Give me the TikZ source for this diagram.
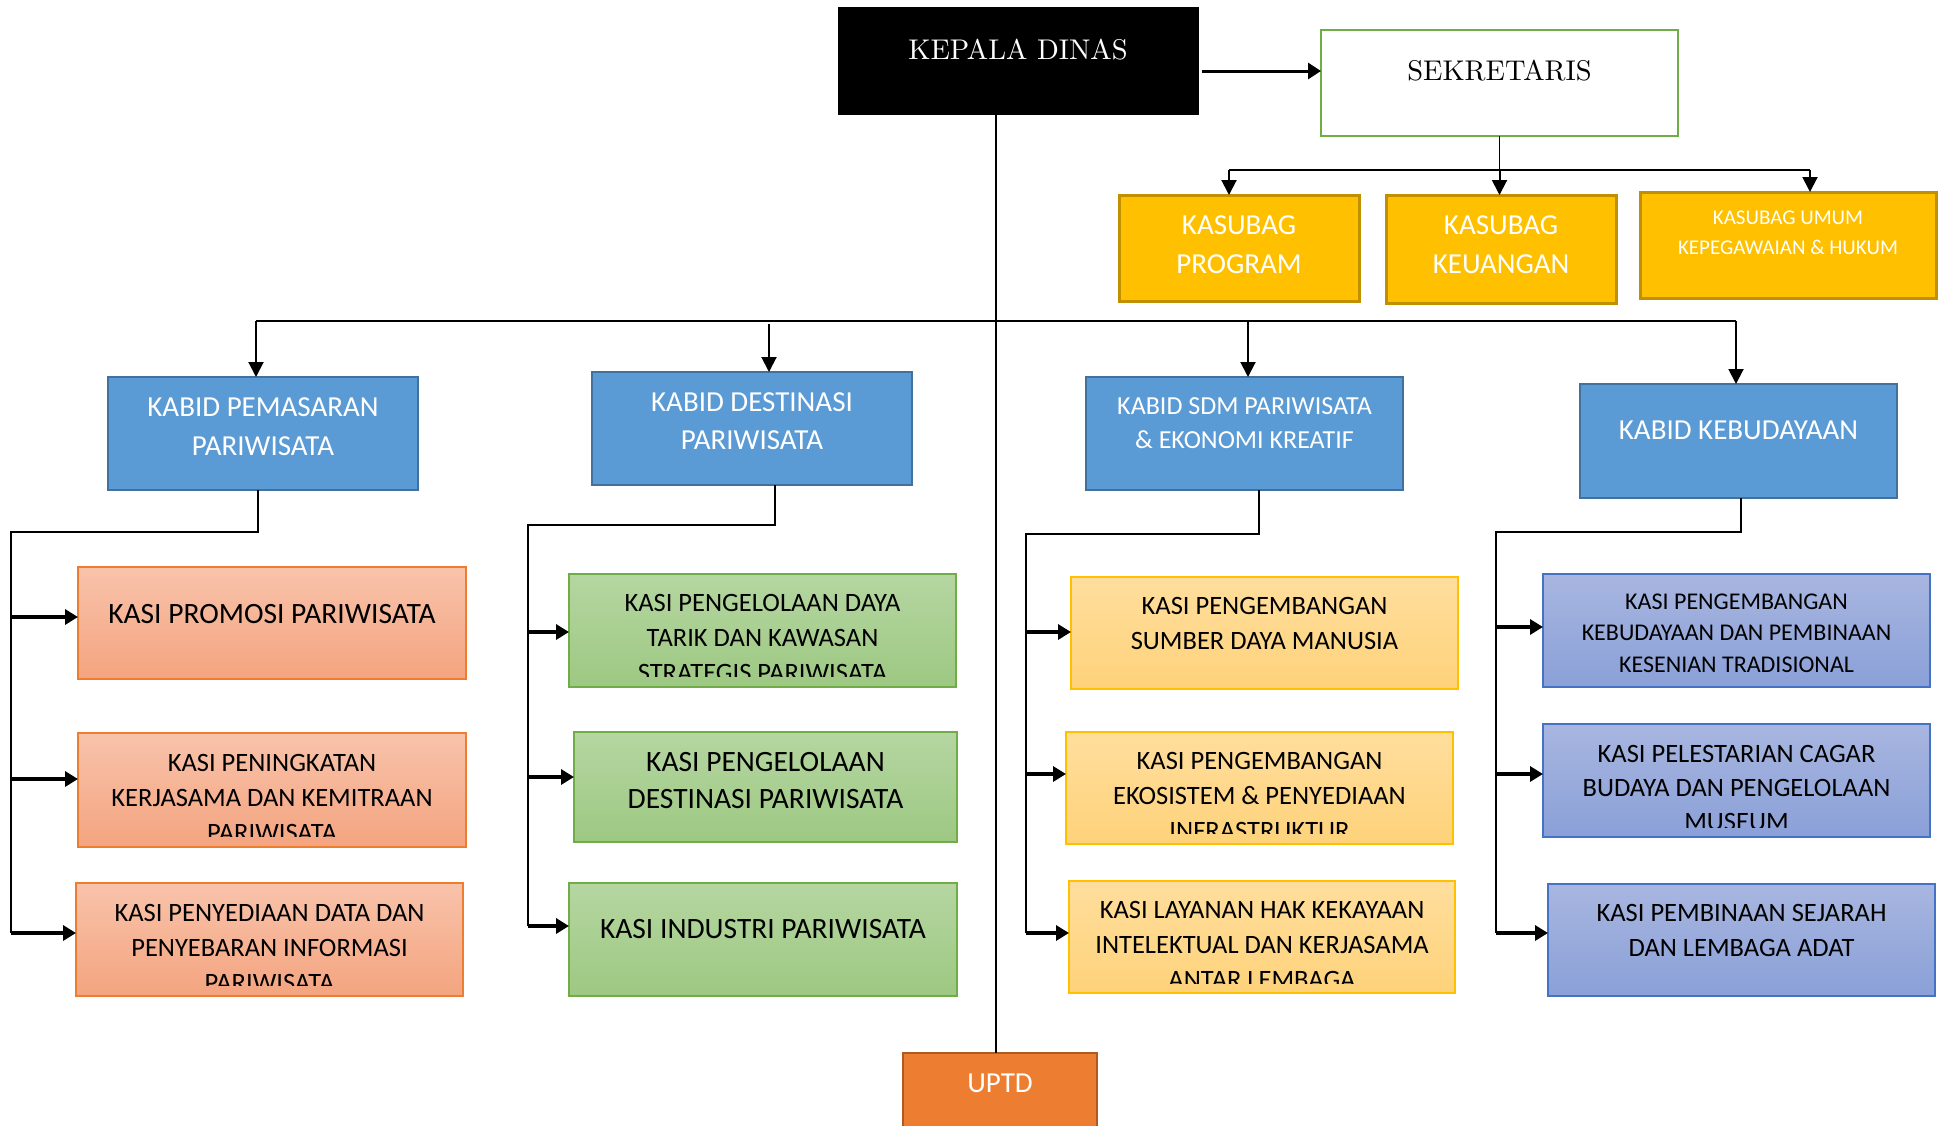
\documentclass[tikz,border=0pt]{standalone}
\usepackage{fontspec}
\newfontfamily\carl{Carlito}
\usetikzlibrary{arrows.meta}
\definecolor{kabfill}{HTML}{5B9BD5}
\definecolor{kabline}{HTML}{41719C}
\definecolor{subfill}{HTML}{FFC000}
\definecolor{subline}{HTML}{C09000}
\definecolor{otop}{HTML}{F8C3AB}
\definecolor{obot}{HTML}{F4A47F}
\definecolor{oline}{HTML}{ED7D31}
\definecolor{gtop}{HTML}{B5D6A1}
\definecolor{gbot}{HTML}{9DC882}
\definecolor{gline}{HTML}{70AD47}
\definecolor{ytop}{HTML}{FFDE9D}
\definecolor{ybot}{HTML}{FED27A}
\definecolor{yline}{HTML}{FFC000}
\definecolor{vtop}{HTML}{A8B6E0}
\definecolor{vbot}{HTML}{8AA0D8}
\definecolor{vline}{HTML}{4472C4}
\definecolor{uptdfill}{HTML}{ED7D31}
\definecolor{uptdline}{HTML}{AE5A21}
\newcommand\fsz[2]{\carl\fontsize{#1}{#2}\selectfont}
\begin{document}
\begin{tikzpicture}[x=1pt,y=-1pt,
  bx/.style={rectangle, inner sep=0pt, outer sep=0pt},
  headbox/.style={bx, fill=black, draw=black, line width=1pt},
  sekbox/.style={bx, fill=white, draw=gline, line width=2.2pt},
  subbox/.style={bx, fill=subfill, draw=subline, line width=3pt},
  kabbox/.style={bx, fill=kabfill, draw=kabline, line width=2.5pt},
  obox/.style={bx, draw=oline, line width=2pt, top color=otop, bottom color=obot},
  gbox/.style={bx, draw=gline, line width=2pt, top color=gtop, bottom color=gbot},
  ybox/.style={bx, draw=yline, line width=2pt, top color=ytop, bottom color=ybot},
  vbox/.style={bx, draw=vline, line width=2pt, top color=vtop, bottom color=vbot},
  ubox/.style={bx, fill=uptdfill, draw=uptdline, line width=2.5pt},
  txt/.style={anchor=north, inner sep=0pt, align=center},
  wtxt/.style={txt, text=white},
  serif/.style={anchor=north, inner sep=0pt, scale=2.85, transform shape, font=\fontsize{10}{12}\selectfont},
  conn/.style={draw=black, line width=1.3pt},
  arrV/.style={draw=black, line width=2pt, -{Triangle[length=15pt,width=15pt]}},
  arrH/.style={draw=black, line width=3.3pt, -{Triangle[length=13pt,width=15pt]}},
  arrT/.style={draw=black, line width=3pt, -{Triangle[length=13pt,width=16pt]}}
]
\useasboundingbox (0,0) rectangle (1939,1125);

% ---------- top level ----------
\node[headbox, minimum width=360, minimum height=107] (kepala) at (1018,60.5) {};
\node[serif, text=white] (kepalat) at (1018,39) {KEPALA DINAS};

\node[sekbox, minimum width=357, minimum height=106] (sek) at (1499.5,83) {};
\node[serif] (sekt) at (1499.5,60) {SEKRETARIS};

\node[subbox, minimum width=240, minimum height=106] (kprog) at (1239,248) {};
\node[wtxt, font=\fsz{29}{39}] (kprogt) at (1239,215.8) {KASUBAG\\PROGRAM};
\node[subbox, minimum width=230, minimum height=108] (kkeu) at (1501,249) {};
\node[wtxt, font=\fsz{29}{39}] (kkeut) at (1501,215.8) {KASUBAG\\KEUANGAN};
\node[subbox, minimum width=296, minimum height=106] (kumum) at (1788,245) {};
\node[wtxt, font=\fsz{21}{30}] (kumumt) at (1788,210.4) {KASUBAG UMUM\\KEPEGAWAIAN \& HUKUM};

% ---------- kabid ----------
\node[kabbox, minimum width=310, minimum height=113] (kab1) at (263,433.5) {};
\node[wtxt, font=\fsz{29}{39}] (kab1t) at (263,397.8) {KABID PEMASARAN\\PARIWISATA};
\node[kabbox, minimum width=320, minimum height=113] (kab2) at (752,428.5) {};
\node[wtxt, font=\fsz{29}{38}] (kab2t) at (752,392.8) {KABID DESTINASI\\PARIWISATA};
\node[kabbox, minimum width=317, minimum height=113] (kab3) at (1244.5,433.5) {};
\node[wtxt, font=\fsz{26}{34}] (kab3t) at (1244.5,397.8) {KABID SDM PARIWISATA\\\& EKONOMI KREATIF};
\node[kabbox, minimum width=317, minimum height=114] (kab4) at (1738.5,441) {};
\node[wtxt, font=\fsz{29}{38}] (kab4t) at (1738.5,420.8) {KABID KEBUDAYAAN};

% ---------- kasi column 1 ----------
\node[obox, minimum width=388, minimum height=112] (p1) at (272,623) {};
\node[txt, font=\fsz{29.5}{35}] (p1t) at (272,603.8) {KASI PROMOSI PARIWISATA};
\node[obox, minimum width=388, minimum height=114] (p2) at (272,790) {};
\begin{scope}\clip (78,733) rectangle (466,836);
\node[txt, font=\fsz{26.5}{35}] (p2t) at (272,753.6) {KASI PENINGKATAN\\KERJASAMA DAN KEMITRAAN\\PARIWISATA};
\end{scope}
\node[obox, minimum width=387, minimum height=113] (p3) at (269.5,939.5) {};
\begin{scope}\clip (76,883) rectangle (463,985);
\node[txt, font=\fsz{26.5}{35}] (p3t) at (269.5,903.6) {KASI PENYEDIAAN DATA DAN\\PENYEBARAN INFORMASI\\PARIWISATA};
\end{scope}

% ---------- kasi column 2 ----------
\node[gbox, minimum width=387, minimum height=113] (d1) at (762.5,630.5) {};
\begin{scope}\clip (569,574) rectangle (956,676);
\node[txt, font=\fsz{26.5}{35}] (d1t) at (762.5,593.6) {KASI PENGELOLAAN DAYA\\TARIK DAN KAWASAN\\STRATEGIS PARIWISATA};
\end{scope}
\node[gbox, minimum width=383, minimum height=110] (d2) at (765.5,787) {};
\node[txt, font=\fsz{29.5}{37}] (d2t) at (765.5,751.8) {KASI PENGELOLAAN\\DESTINASI PARIWISATA};
\node[gbox, minimum width=388, minimum height=113] (d3) at (763,939.5) {};
\node[txt, font=\fsz{29.5}{37}] (d3t) at (763,918.8) {KASI INDUSTRI PARIWISATA};

% ---------- kasi column 3 ----------
\node[ybox, minimum width=387, minimum height=112] (s1) at (1264.5,633) {};
\node[txt, font=\fsz{26.5}{35}] (s1t) at (1264.5,596.6) {KASI PENGEMBANGAN\\SUMBER DAYA MANUSIA};
\node[ybox, minimum width=387, minimum height=112] (s2) at (1259.5,788) {};
\begin{scope}\clip (1066,732) rectangle (1453,833);
\node[txt, font=\fsz{26.5}{35}] (s2t) at (1259.5,751.6) {KASI PENGEMBANGAN\\EKOSISTEM \& PENYEDIAAN\\INFRASTRUKTUR};
\end{scope}
\node[ybox, minimum width=386, minimum height=112] (s3) at (1262,937) {};
\begin{scope}\clip (1069,881) rectangle (1455,983);
\node[txt, font=\fsz{26.5}{35}] (s3t) at (1262,900.6) {KASI LAYANAN HAK KEKAYAAN\\INTELEKTUAL DAN KERJASAMA\\ANTAR LEMBAGA};
\end{scope}

% ---------- kasi column 4 ----------
\node[vbox, minimum width=387, minimum height=113] (b1) at (1736.5,630.5) {};
\node[txt, font=\fsz{24}{31.5}] (b1t) at (1736.5,593.4) {KASI PENGEMBANGAN\\KEBUDAYAAN DAN PEMBINAAN\\KESENIAN TRADISIONAL};
\node[vbox, minimum width=387, minimum height=113] (b2) at (1736.5,780.5) {};
\begin{scope}\clip (1543,724) rectangle (1930,827);
\node[txt, font=\fsz{26.5}{34}] (b2t) at (1736.5,744.6) {KASI PELESTARIAN CAGAR\\BUDAYA DAN PENGELOLAAN\\MUSEUM};
\end{scope}
\node[vbox, minimum width=387, minimum height=112] (b3) at (1741.5,940) {};
\node[txt, font=\fsz{26.5}{35}] (b3t) at (1741.5,903.6) {KASI PEMBINAAN SEJARAH\\DAN LEMBAGA ADAT};

% ---------- UPTD ----------
\node[ubox, minimum width=194, minimum height=87] (uptd) at (1000,1096.5) {};
\node[wtxt, font=\fsz{29}{35}] (uptdt) at (1000,1073.8) {UPTD};

% ---------- connectors: top ----------
\coordinate (ka) at (1202,71);
\draw[arrT] (ka) -- (sek.west |- ka);
\coordinate (tk) at (996,0);
\draw[draw=black, line width=1.2pt] (tk |- kepala.south) -- (tk |- uptd.north);

\coordinate (hl) at (1229,170);
\coordinate (hr) at (1810,170);
\draw[conn, line width=1.6pt] (sek.south) -- (sek.south |- hl);
\draw[conn, line width=1.6pt] (hl) -- (hr);
\draw[arrV] (hl) -- (hl |- kprog.north);
\draw[arrV] (sek.south |- hl) -- (sek.south |- kkeu.north);
\draw[arrV] (hr) -- (hr |- kumum.north);

% ---------- connectors: main bar ----------
\coordinate (m1) at (256,321);
\coordinate (m2) at (769,324);
\coordinate (m3) at (1248,321);
\coordinate (m4) at (1736,321);
\draw[conn] (m1) -- (m4);
\draw[arrV] (m1) -- (m1 |- kab1.north);
\draw[arrV] (m2) -- (m2 |- kab2.north);
\draw[arrV] (m3) -- (m3 |- kab3.north);
\draw[arrV] (m4) -- (m4 |- kab4.north);

% ---------- kabid 1 subtree ----------
\coordinate (c1a) at (258,532);
\coordinate (c1b) at (11,532);
\draw[conn] (c1a |- kab1.south) -- (c1a) -- (c1b) -- (c1b |- 0,933);
\draw[arrH] (c1b |- 0,617) -- (p1.west |- 0,617);
\draw[arrH] (c1b |- 0,779) -- (p2.west |- 0,779);
\draw[arrH] (c1b |- 0,933) -- (p3.west |- 0,933);

% ---------- kabid 2 subtree ----------
\coordinate (c2a) at (775,525);
\coordinate (c2b) at (528,525);
\draw[conn] (c2a |- kab2.south) -- (c2a) -- (c2b) -- (c2b |- 0,926);
\draw[arrH] (c2b |- 0,632) -- (d1.west |- 0,632);
\draw[arrH] (c2b |- 0,777) -- (d2.west |- 0,777);
\draw[arrH] (c2b |- 0,926) -- (d3.west |- 0,926);

% ---------- kabid 3 subtree ----------
\coordinate (c3a) at (1259,534);
\coordinate (c3b) at (1026,534);
\draw[conn] (c3a |- kab3.south) -- (c3a) -- (c3b) -- (c3b |- 0,933);
\draw[arrH] (c3b |- 0,632) -- (s1.west |- 0,632);
\draw[arrH] (c3b |- 0,774) -- (s2.west |- 0,774);
\draw[arrH] (c3b |- 0,933) -- (s3.west |- 0,933);

% ---------- kabid 4 subtree ----------
\coordinate (c4a) at (1741,532);
\coordinate (c4b) at (1496,532);
\draw[conn] (c4a |- kab4.south) -- (c4a) -- (c4b) -- (c4b |- 0,933);
\draw[arrH] (c4b |- 0,627) -- (b1.west |- 0,627);
\draw[arrH] (c4b |- 0,774) -- (b2.west |- 0,774);
\draw[arrH] (c4b |- 0,933) -- (b3.west |- 0,933);
\end{tikzpicture}
\end{document}
